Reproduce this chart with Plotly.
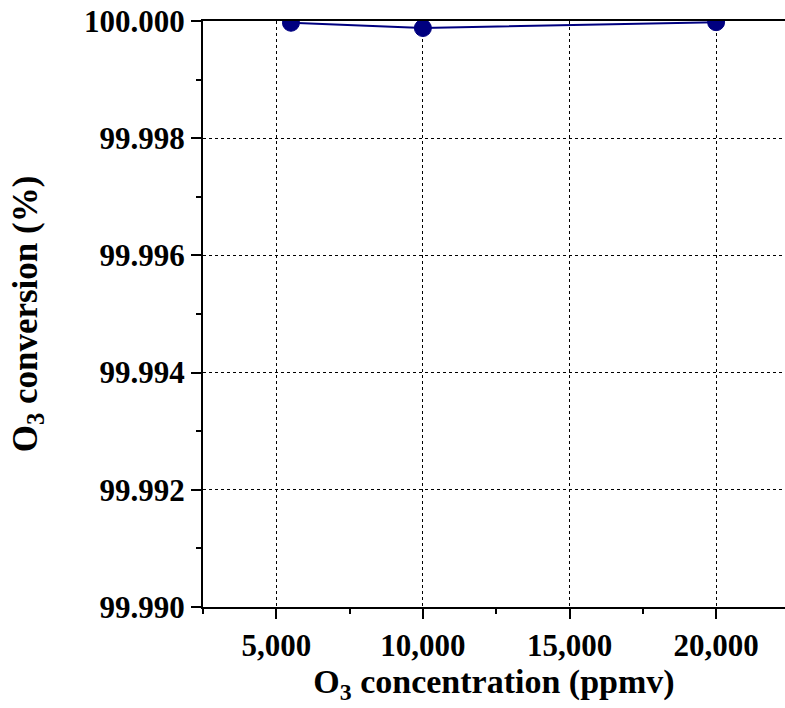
import plotly.graph_objects as go

conc = [5500, 10000, 20000]
conversion = [99.99997, 99.99988, 99.99998]
y_ticks = [99.990, 99.992, 99.994, 99.996, 99.998, 100.000]
x_ticks = [5000, 10000, 15000, 20000]

fig = go.Figure()
fig.add_trace(go.Scatter(
    x=conc, y=conversion, mode="lines+markers",
    line=dict(color="#000080", width=2),
    marker=dict(color="#000080", size=17, line=dict(color="#000080", width=1)),
    showlegend=False,
))

font = "Liberation Serif"
fig.update_layout(
    width=785, height=708,
    margin=dict(l=203, r=0, t=21, b=101),
    paper_bgcolor="white", plot_bgcolor="white",
    font=dict(family=font, color="black"),
)
fig.update_xaxes(
    range=[2500, 22350],
    tickvals=x_ticks, ticktext=[f"{v:,}" for v in x_ticks],
    tickfont=dict(family=font, size=31, weight="bold"),
    ticks="outside", ticklen=10, tickwidth=2, tickcolor="black",
    minor=dict(dtick=2500, tick0=0, ticks="outside", ticklen=5, tickwidth=2, tickcolor="black", showgrid=False),
    showline=True, linecolor="black", linewidth=2, mirror=True,
    showgrid=True, gridcolor="black", griddash="dot", gridwidth=1.3,
    zeroline=False,
    title=dict(text="O<sub>3</sub> concentration (ppmv)", font=dict(family=font, size=34, weight="bold"), standoff=6),
)
fig.update_yaxes(
    range=[99.990, 100.000],
    tickvals=y_ticks, ticktext=[f"{v:.3f}" for v in y_ticks],
    tickfont=dict(family=font, size=31, weight="bold"),
    ticks="outside", ticklen=10, tickwidth=2, tickcolor="black",
    minor=dict(dtick=0.001, tick0=99.990, ticks="outside", ticklen=5, tickwidth=2, tickcolor="black", showgrid=False),
    showline=True, linecolor="black", linewidth=2, mirror=False,
    showgrid=True, gridcolor="black", griddash="dot", gridwidth=1.3,
    zeroline=False,
    title=dict(text="O<sub>3</sub> conversion (%)", font=dict(family=font, size=35, weight="bold"), standoff=36),
)

fig.write_html("out.html", config={"displayModeBar": False},
               post_script="document.body.style.margin='0px';")
